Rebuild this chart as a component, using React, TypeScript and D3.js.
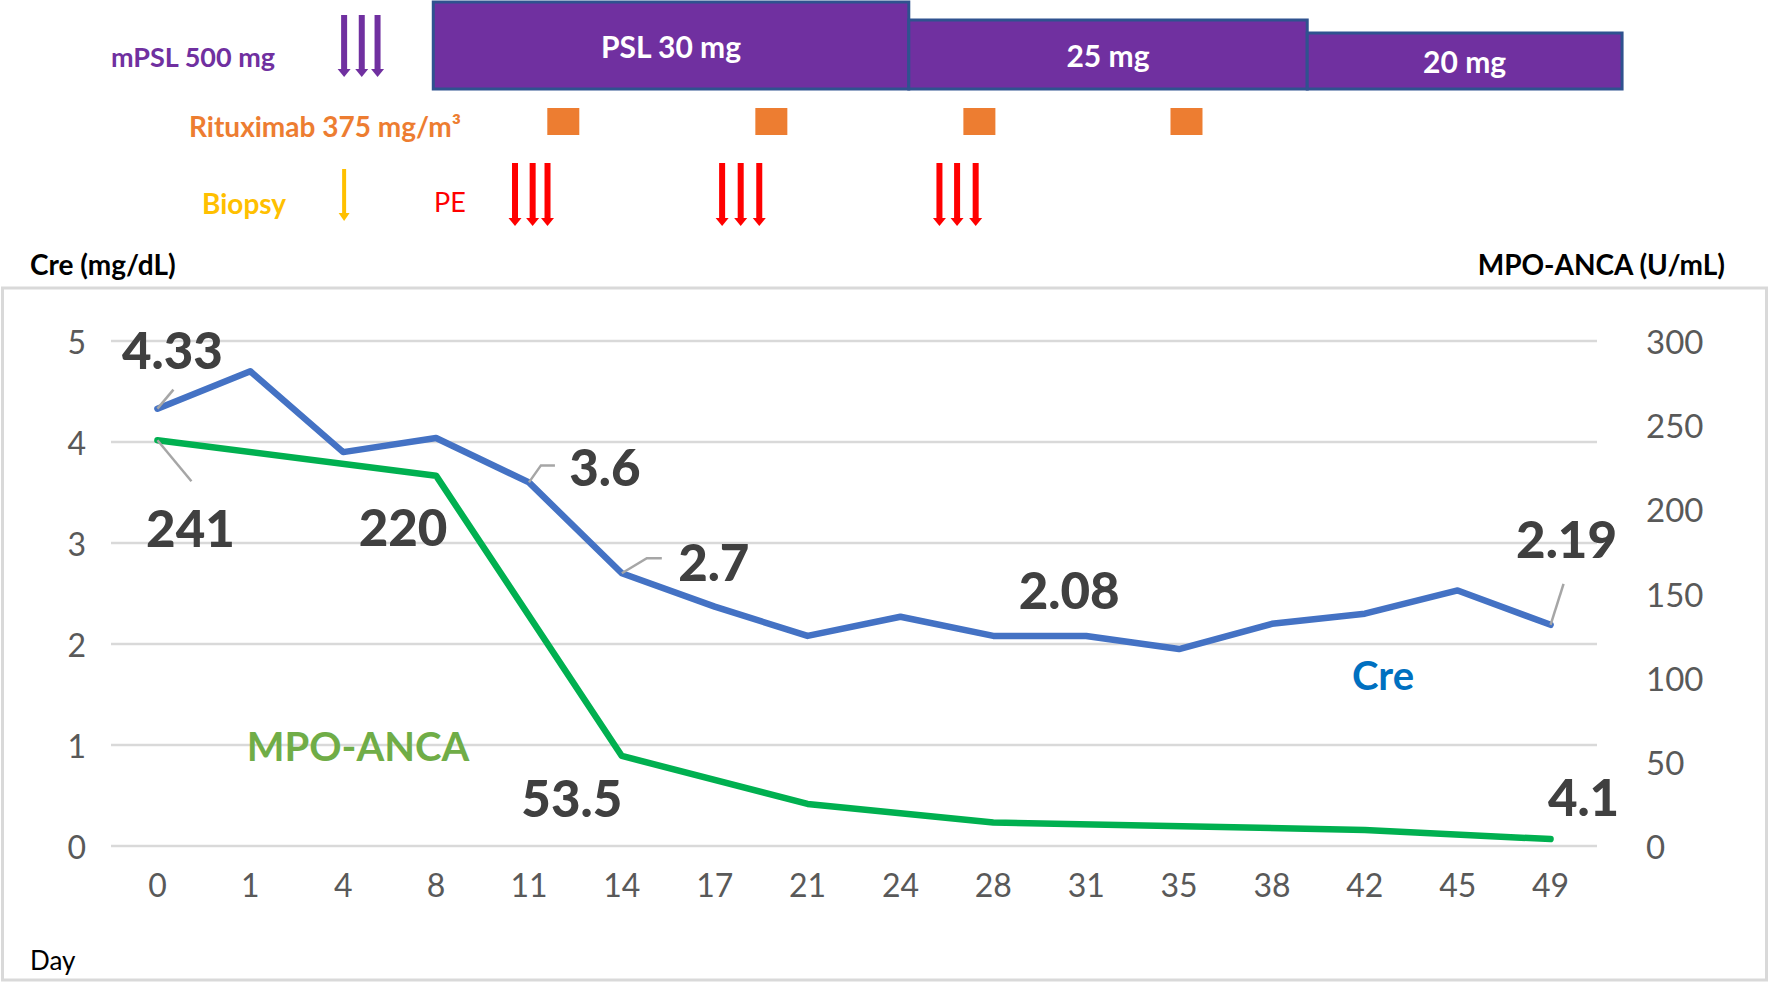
import React from "react";
import * as d3 from "d3";

// ---- data ----
const days = [0, 1, 4, 8, 11, 14, 17, 21, 24, 28, 31, 35, 38, 42, 45, 49];
const creValues = [4.33, 4.7, 3.9, 4.04, 3.6, 2.7, 2.37, 2.08, 2.27, 2.08, 2.08, 1.95, 2.2, 2.3, 2.53, 2.19];
const mpoValues: (number | null)[] = [241, null, null, 220, null, 53.5, null, 25, null, 14, null, null, null, 9.5, null, 4.1];
const creTicks = [0, 1, 2, 3, 4, 5];
const mpoTicks = [0, 50, 100, 150, 200, 250, 300];

// treatment timeline, positions in category-index units
const pslPhases = [
  { label: "PSL 30 mg", dose: 30, from: 2.97, to: 8.09 },
  { label: "25 mg", dose: 25, from: 8.09, to: 12.38 },
  { label: "20 mg", dose: 20, from: 12.38, to: 15.77 },
];
const mpslPulses = [2.01, 2.2, 2.37];
const biopsyAt = [2.01];
const pePulses = [3.85, 4.04, 4.2, 6.08, 6.28, 6.48, 8.42, 8.61, 8.81];
const rituximabAt = [4.37, 6.61, 8.85, 11.08];

// data labels
const creLabels = [
  { i: 0, text: "4.33", dx: 15, dy: -59, leader: [[0, 0], [16, -19]] },
  { i: 4, text: "3.6", dx: 76, dy: -16, leader: [[0, 0], [12, -17], [26, -17]] },
  { i: 5, text: "2.7", dx: 92, dy: -12, leader: [[0, 0], [25, -15], [40, -15]] },
  { i: 10, text: "2.08", dx: -17, dy: -46, leader: null },
  { i: 15, text: "2.19", dx: 16, dy: -86, leader: [[0, 0], [13, -41]] },
];
const mpoLabels = [
  { i: 0, text: "241", dx: 33, dy: 87, leader: [[0, 0], [34, 41]] },
  { i: 3, text: "220", dx: -33, dy: 51, leader: null },
  { i: 5, text: "53.5", dx: -50, dy: 42, leader: null },
  { i: 15, text: "4.1", dx: 33, dy: -43, leader: null },
];

const FONT = "Lato, 'Open Sans', 'DejaVu Sans', sans-serif";
const W = 1770;
const H = 985;

function Arrow({ x, y0, y1, color, shaft = 6, head = 13, headH = 8 }: any) {
  return (
    <g>
      <rect x={x - shaft / 2} y={y0} width={shaft} height={y1 - y0 - headH} fill={color} />
      <path d={`M${x - head / 2},${y1 - headH} L${x + head / 2},${y1 - headH} L${x},${y1} Z`} fill={color} />
    </g>
  );
}

export default function App() {
  const plotLeft = 111;
  const plotRight = 1597;
  const yTop = 341;
  const yBottom = 846;

  const x = d3.scalePoint<number>().domain(days).range([plotLeft, plotRight]).padding(0.5);
  const xi = d3.scaleLinear().domain([0, days.length - 1]).range([x(days[0])!, x(days[days.length - 1])!]);
  const yCre = d3.scaleLinear().domain([0, 5]).range([yBottom, yTop]);
  const yMpo = d3.scaleLinear().domain([0, 300]).range([yBottom, yTop]);
  const doseH = d3.scaleLinear().domain([20, 25, 30]).range([56, 69, 87]);

  const creLine = d3
    .line<number>()
    .x((_, i) => x(days[i])!)
    .y((d) => yCre(d));
  const mpoPts = days
    .map((d, i) => ({ d, v: mpoValues[i] }))
    .filter((p) => p.v !== null) as { d: number; v: number }[];
  const mpoLine = d3
    .line<{ d: number; v: number }>()
    .x((p) => x(p.d)!)
    .y((p) => yMpo(p.v));

  const barBottom = 89;
  const labelColor = "#404040";
  const tickColor = "#595959";

  return (
    <svg width={W} height={H} style={{ position: "absolute", left: 0, top: 0, background: "#fff" }} fontFamily={FONT}>
      <rect x={0} y={0} width={W} height={H} fill="#fff" />

      {/* ---- treatment header ---- */}
      <text x={111} y={56} fontSize={27} fontWeight={700} fill="#7030A0" dominantBaseline="central">
        mPSL 500 mg
      </text>
      {mpslPulses.map((p, k) => (
        <Arrow key={"mp" + k} x={xi(p)} y0={15} y1={77} color="#7030A0" />
      ))}
      {pslPhases.map((ph, k) => {
        const x0 = xi(ph.from);
        const x1 = xi(ph.to);
        const top = Math.max(barBottom - doseH(ph.dose), 1.5);
        return (
          <g key={"psl" + k}>
            <rect x={x0} y={top} width={x1 - x0} height={barBottom - top} fill="#7030A0" stroke="#2F528F" strokeWidth={3} />
            <text x={(x0 + x1) / 2} y={(top + barBottom) / 2} fontSize={30} fontWeight={700} fill="#fff" textAnchor="middle" dominantBaseline="central">
              {ph.label}
            </text>
          </g>
        );
      })}

      <text x={461} y={126} fontSize={28} fontWeight={700} fill="#ED7D31" textAnchor="end" dominantBaseline="central">
        Rituximab 375 mg/m³
      </text>
      {rituximabAt.map((p, k) => (
        <rect key={"rx" + k} x={xi(p) - 16} y={108} width={32} height={27} fill="#ED7D31" />
      ))}

      <text x={202} y={203} fontSize={28} fontWeight={700} fill="#FFC000" dominantBaseline="central">
        Biopsy
      </text>
      {biopsyAt.map((p, k) => (
        <Arrow key={"bx" + k} x={xi(p)} y0={169} y1={221} color="#FFC000" shaft={4} head={11} headH={8} />
      ))}
      <text x={434} y={201} fontSize={27} fill="#FF0000" dominantBaseline="central">
        PE
      </text>
      {pePulses.map((p, k) => (
        <Arrow key={"pe" + k} x={xi(p)} y0={163} y1={226} color="#FF0000" />
      ))}

      {/* ---- axis titles ---- */}
      <text x={30} y={264} fontSize={28} fontWeight={700} fill="#000" dominantBaseline="central">
        Cre (mg/dL)
      </text>
      <text x={1725} y={264} fontSize={28} fontWeight={700} fill="#000" textAnchor="end" dominantBaseline="central">
        MPO-ANCA (U/mL)
      </text>

      {/* ---- chart frame ---- */}
      <rect x={2.5} y={288} width={1764} height={692} fill="none" stroke="#D9D9D9" strokeWidth={3} />

      {/* gridlines */}
      {creTicks.map((t) => (
        <line key={"g" + t} x1={plotLeft} x2={plotRight} y1={yCre(t)} y2={yCre(t)} stroke="#D9D9D9" strokeWidth={2.5} />
      ))}

      {/* left ticks */}
      {creTicks.map((t) => (
        <text key={"lt" + t} x={86} y={yCre(t)} fontSize={32} fill={tickColor} textAnchor="end" dominantBaseline="central">
          {t}
        </text>
      ))}
      {/* right ticks */}
      {mpoTicks.map((t) => (
        <text key={"rt" + t} x={1646} y={yMpo(t)} fontSize={33} fill={tickColor} textAnchor="start" dominantBaseline="central">
          {t}
        </text>
      ))}
      {/* x ticks */}
      {days.map((d) => (
        <text key={"xt" + d} x={x(d)} y={884} fontSize={32} fill={tickColor} textAnchor="middle" dominantBaseline="central">
          {d}
        </text>
      ))}
      <text x={30} y={960} fontSize={26} fill="#000" dominantBaseline="central">
        Day
      </text>

      {/* series */}
      <path d={mpoLine(mpoPts)!} fill="none" stroke="#00B050" strokeWidth={6.5} strokeLinejoin="round" strokeLinecap="round" />
      <path d={creLine(creValues)!} fill="none" stroke="#4472C4" strokeWidth={6.5} strokeLinejoin="round" strokeLinecap="round" />

      {/* leader lines */}
      {creLabels.filter((l) => l.leader).map((l, k) => {
        const px = x(days[l.i])!;
        const py = yCre(creValues[l.i]);
        return (
          <polyline key={"cl" + k} points={l.leader!.map(([a, b]) => `${px + a},${py + b}`).join(" ")} fill="none" stroke="#A6A6A6" strokeWidth={2.5} />
        );
      })}
      {mpoLabels.filter((l) => l.leader).map((l, k) => {
        const px = x(days[l.i])!;
        const py = yMpo(mpoValues[l.i] as number);
        return (
          <polyline key={"ml" + k} points={l.leader!.map(([a, b]) => `${px + a},${py + b}`).join(" ")} fill="none" stroke="#A6A6A6" strokeWidth={2.5} />
        );
      })}

      {/* data labels */}
      {creLabels.map((l, k) => (
        <text key={"ct" + k} x={x(days[l.i])! + l.dx} y={yCre(creValues[l.i]) + l.dy} fontSize={51} fontWeight={900} fill={labelColor} textAnchor="middle" dominantBaseline="central">
          {l.text}
        </text>
      ))}
      {mpoLabels.map((l, k) => (
        <text key={"mt" + k} x={x(days[l.i])! + l.dx} y={yMpo(mpoValues[l.i] as number) + l.dy} fontSize={51} fontWeight={900} fill={labelColor} textAnchor="middle" dominantBaseline="central">
          {l.text}
        </text>
      ))}

      {/* series names */}
      <text x={1383} y={675} fontSize={40} fontWeight={700} fill="#0070C0" textAnchor="middle" dominantBaseline="central">
        Cre
      </text>
      <text x={358} y={746} fontSize={40} fontWeight={700} fill="#70AD47" textAnchor="middle" dominantBaseline="central">
        MPO-ANCA
      </text>
    </svg>
  );
}
